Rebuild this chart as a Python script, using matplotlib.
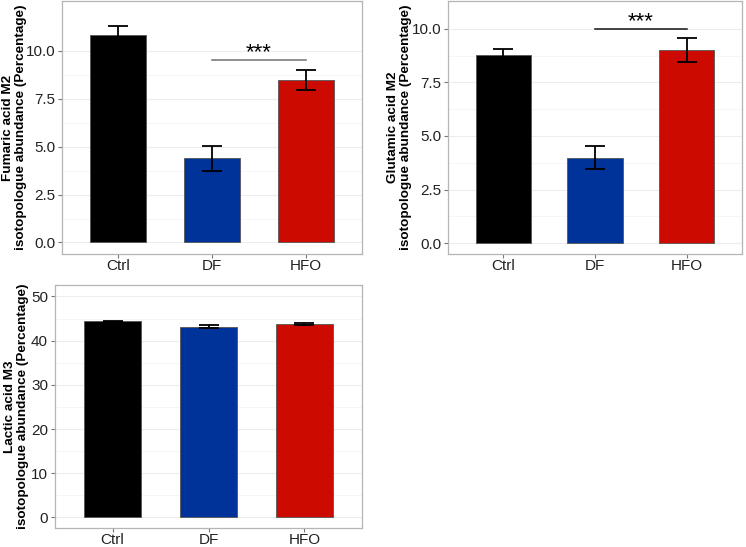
import numpy as np
import matplotlib
matplotlib.use('Agg')
import matplotlib.pyplot as plt

plt.rcParams['font.family'] = ['Liberation Sans', 'DejaVu Sans']

groups = ['Ctrl', 'DF', 'HFO']
colors = ['#000000', '#003399', '#cc0a00']

fumaric_mean = [10.80, 4.40, 8.48]
fumaric_err = [0.48, 0.66, 0.53]
glutamic_mean = [8.80, 3.98, 9.03]
glutamic_err = [0.28, 0.53, 0.56]
lactic_mean = [44.35, 43.15, 43.80]
lactic_err = [0.15, 0.30, 0.25]

fumaric_ticks = [0.0, 2.5, 5.0, 7.5, 10.0]
glutamic_ticks = [0.0, 2.5, 5.0, 7.5, 10.0]
lactic_ticks = [0, 10, 20, 30, 40, 50]

W, H = 746, 547
fig = plt.figure(figsize=(W / 100, H / 100), dpi=100)


def panel(box, means, errs, ticks, ylim, ylabel, label_x, tick_fmt, sig=None):
    l, t, r, b = box
    ax = fig.add_axes([l / W, 1 - b / H, (r - l) / W, (b - t) / H])
    x = np.arange(1, len(groups) + 1)
    ax.bar(x, means, width=0.6, color=colors, edgecolor='#555555', linewidth=0.6, zorder=2)
    ax.errorbar(x, means, yerr=errs, fmt='none', ecolor='black', elinewidth=1.3,
                capsize=7, capthick=1.3, zorder=3)
    ax.set_xlim(0.4, 3.6)
    ax.set_ylim(*ylim)
    ax.set_xticks(x)
    ax.set_xticklabels(groups)
    ax.set_yticks(ticks)
    ax.set_yticklabels([tick_fmt.format(v) for v in ticks])
    minor = [(a + c) / 2 for a, c in zip(ticks[:-1], ticks[1:])]
    ax.set_yticks(minor, minor=True)
    ax.grid(axis='y', which='major', color='#ededed', linewidth=0.8, zorder=0)
    ax.grid(axis='y', which='minor', color='#f5f5f5', linewidth=0.6, zorder=0)
    ax.tick_params(axis='both', which='major', labelsize=11, colors='#777777',
                   labelcolor='#222222', length=3, width=0.8, pad=2)
    ax.tick_params(axis='x', which='major', pad=0.5)
    ax.tick_params(axis='y', which='minor', length=0)
    for s in ax.spines.values():
        s.set_color('#b5b5b5')
        s.set_linewidth(0.9)
    ax.set_ylabel(ylabel, fontsize=9.7, fontweight='bold', va='center',
                  linespacing=1.1)
    ax.yaxis.set_label_coords(label_x, 0.5)
    if sig is not None:
        x0, x1, y, col = sig
        ax.plot([x0, x1], [y, y], color=col, linewidth=1.1, zorder=3)
        ax.annotate('***', ((x0 + x1) / 2, y), xytext=(0, 1.5), textcoords='offset points',
                    ha='center', va='baseline', fontsize=16)
    return ax


panel((62, 1, 362, 254), fumaric_mean, fumaric_err, fumaric_ticks, (-0.6, 12.6),
      'Fumaric acid M2\nisotopologue abundance (Percentage)', -0.158, '{:.1f}',
      sig=(2, 3, 9.51, '#707070'))
panel((448, 1, 742, 254), glutamic_mean, glutamic_err, glutamic_ticks, (-0.51, 11.3),
      'Glutamic acid M2\nisotopologue abundance (Percentage)', -0.166, '{:.1f}',
      sig=(2, 3, 10.0, '#111111'))
panel((55, 285, 362, 528), lactic_mean, lactic_err, lactic_ticks, (-2.4, 52.6),
      'Lactic acid M3\nisotopologue abundance (Percentage)', -0.126, '{:d}')

fig.savefig('out.png', dpi=100)
